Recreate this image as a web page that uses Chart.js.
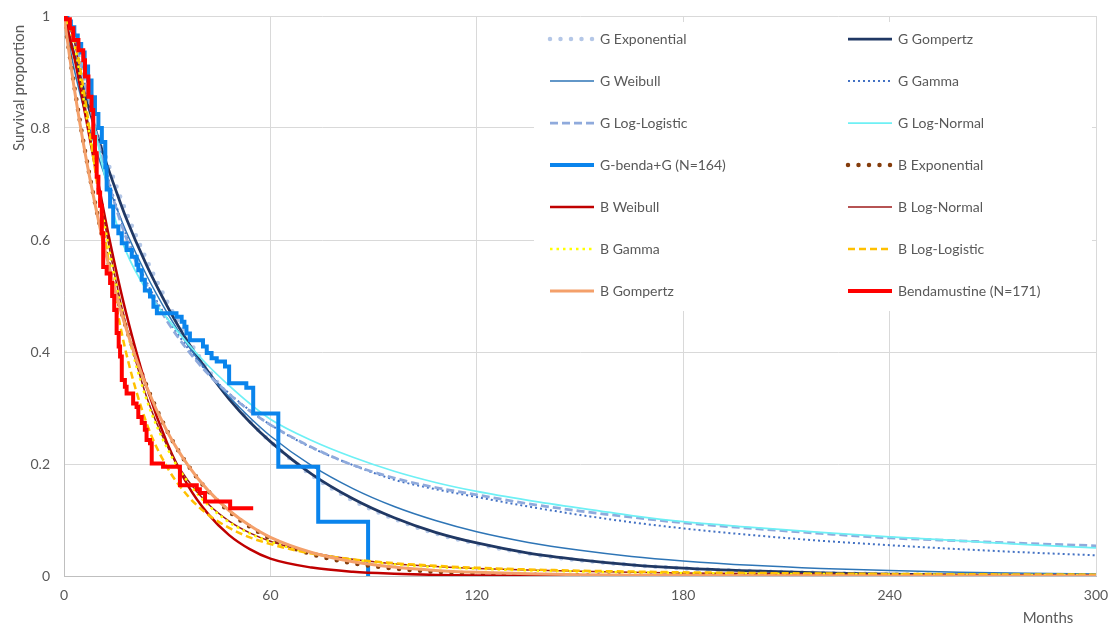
<!DOCTYPE html>
<html lang="en">
<head>
    <meta charset="UTF-8">
    <title>Survival curves</title>
    <script src="https://cdn.jsdelivr.net/npm/chart.js"></script>
    <style>
        html, body { margin: 0; padding: 0; background: #fff; }
        #survCanvas { display: block; }
    </style>
</head>
<body>
<canvas id="survCanvas" width="1109" height="625"></canvas>

<script>
    const fitMonths = [0, 3, 6, 9, 12, 15, 18, 24, 30, 36, 42, 48, 54, 60, 72, 84, 96, 108, 120, 135, 150, 165, 180, 200, 220, 240, 260, 280, 300];

    // G-benda+G fitted curves
    const gExponential = [1, 0.931, 0.867, 0.807, 0.751, 0.70, 0.651, 0.565, 0.49, 0.424, 0.368, 0.319, 0.277, 0.24, 0.18, 0.135, 0.102, 0.076, 0.0575, 0.04, 0.028, 0.0197, 0.0138, 0.0086, 0.0053, 0.0033, 0.002, 0.0013, 0.0008];
    const gGompertz = [1, 0.93, 0.862, 0.80, 0.743, 0.69, 0.64, 0.555, 0.482, 0.418, 0.364, 0.316, 0.275, 0.24, 0.182, 0.138, 0.104, 0.078, 0.059, 0.041, 0.029, 0.02, 0.014, 0.009, 0.0055, 0.0035, 0.0022, 0.0014, 0.0009];
    const gWeibull = [1, 0.904, 0.83, 0.768, 0.712, 0.662, 0.616, 0.537, 0.47, 0.412, 0.362, 0.32, 0.283, 0.25, 0.197, 0.156, 0.124, 0.099, 0.079, 0.06, 0.046, 0.035, 0.027, 0.019, 0.0134, 0.0096, 0.0069, 0.0049, 0.0035];
    const gGamma = [1, 0.955, 0.88, 0.80, 0.73, 0.665, 0.61, 0.525, 0.46, 0.407, 0.362, 0.326, 0.296, 0.27, 0.229, 0.198, 0.172, 0.155, 0.141, 0.124, 0.109, 0.096, 0.085, 0.073, 0.063, 0.055, 0.048, 0.042, 0.037];
    const gLogLogistic = [1, 0.96, 0.885, 0.80, 0.725, 0.66, 0.605, 0.52, 0.455, 0.403, 0.36, 0.325, 0.295, 0.27, 0.23, 0.198, 0.175, 0.158, 0.145, 0.129, 0.116, 0.105, 0.095, 0.085, 0.076, 0.068, 0.063, 0.058, 0.054];
    const gLogNormal = [1, 0.975, 0.905, 0.80, 0.71, 0.635, 0.58, 0.51, 0.46, 0.415, 0.375, 0.34, 0.308, 0.28, 0.242, 0.212, 0.187, 0.167, 0.151, 0.135, 0.121, 0.108, 0.097, 0.087, 0.078, 0.07, 0.063, 0.056, 0.05];

    // Bendamustine fitted curves
    const bExponential = [1, 0.874, 0.763, 0.667, 0.583, 0.509, 0.445, 0.34, 0.259, 0.198, 0.151, 0.115, 0.088, 0.067, 0.039, 0.0228, 0.0133, 0.0077, 0.0045, 0.0023, 0.0012, 0.0006, 0.0003, 0.0001, 0.0001, 0, 0, 0, 0];
    const bWeibull = [1, 0.926, 0.83, 0.732, 0.638, 0.55, 0.471, 0.338, 0.237, 0.162, 0.11, 0.073, 0.048, 0.031, 0.015, 0.0075, 0.004, 0.002, 0.001, 0.0005, 0.0002, 0.0001, 0, 0, 0, 0, 0, 0, 0];
    const bLogNormal = [1, 0.955, 0.845, 0.735, 0.625, 0.53, 0.45, 0.32, 0.232, 0.171, 0.128, 0.098, 0.077, 0.062, 0.042, 0.03, 0.022, 0.017, 0.0135, 0.0105, 0.0083, 0.0067, 0.0055, 0.0043, 0.0035, 0.0029, 0.0024, 0.002, 0.0017];
    const bGamma = [1, 0.95, 0.84, 0.73, 0.62, 0.525, 0.445, 0.315, 0.228, 0.168, 0.126, 0.096, 0.076, 0.061, 0.041, 0.029, 0.021, 0.016, 0.013, 0.01, 0.008, 0.0065, 0.0053, 0.0042, 0.0034, 0.0028, 0.0023, 0.0019, 0.0016];
    const bLogLogistic = [1, 0.96, 0.857, 0.727, 0.6, 0.49, 0.4, 0.273, 0.194, 0.143, 0.109, 0.086, 0.069, 0.057, 0.04, 0.0297, 0.0229, 0.0182, 0.0148, 0.0117, 0.0095, 0.0079, 0.0066, 0.0054, 0.0044, 0.0037, 0.0032, 0.0027, 0.0024];
    const bGompertz = [1, 0.87, 0.76, 0.665, 0.58, 0.507, 0.443, 0.338, 0.258, 0.198, 0.152, 0.117, 0.09, 0.069, 0.042, 0.0255, 0.016, 0.01, 0.0065, 0.0038, 0.0023, 0.0014, 0.0009, 0.0005, 0.0003, 0.0002, 0.0001, 0.0001, 0];

    // Kaplan-Meier steps: time of each drop and survival after it
    const gKmMonths = [0, 1, 2, 3, 4, 5, 6, 7, 8, 9, 10, 11, 12, 12.4, 13.4, 14.3, 15.8, 16.8, 18.2, 19.7, 21.1, 21.6, 22.6, 23.5, 25, 26, 27, 32.7, 34.2, 35, 35.6, 36.6, 40.4, 41.5, 42.9, 44.4, 46.8, 48, 53, 55, 62.3, 73.9, 88.4];
    const gKmSurv = [1, 0.99, 0.98, 0.965, 0.95, 0.935, 0.91, 0.885, 0.855, 0.825, 0.8, 0.775, 0.73, 0.69, 0.66, 0.624, 0.612, 0.594, 0.582, 0.57, 0.556, 0.546, 0.529, 0.51, 0.499, 0.481, 0.469, 0.463, 0.454, 0.445, 0.433, 0.421, 0.41, 0.398, 0.389, 0.383, 0.374, 0.344, 0.336, 0.29, 0.195, 0.097, 0];
    const bKmMonths = [0, 0.5, 1.7, 2.7, 4.2, 5.6, 6.1, 7.1, 8, 8.5, 9, 9.5, 10, 10.5, 11, 11.4, 12.4, 13.4, 14, 14.6, 15.3, 15.9, 16.3, 16.8, 17.7, 18.2, 20.1, 21.1, 21.6, 22.6, 23.5, 24, 25, 25.5, 28.8, 33.7, 38.6, 39.5, 41, 48.3, 55];
    const bKmSurv = [1, 0.994, 0.978, 0.957, 0.939, 0.921, 0.892, 0.856, 0.832, 0.784, 0.755, 0.713, 0.685, 0.661, 0.612, 0.552, 0.54, 0.523, 0.5, 0.475, 0.434, 0.41, 0.392, 0.35, 0.338, 0.326, 0.308, 0.302, 0.284, 0.273, 0.261, 0.243, 0.237, 0.201, 0.195, 0.162, 0.155, 0.148, 0.133, 0.121, 0.121];

    const xTicks = [0, 60, 120, 180, 240, 300];
    const yTicks = [0, 0.2, 0.4, 0.6, 0.8, 1];

    const textColor = '#595959';
    const fontFamily = 'Lato, "Open Sans", sans-serif';

    function pairs(xs, ys) {
        return xs.map((x, i) => ({ x: x, y: ys[i] }));
    }

    function fitLine(label, values, color, width, dash, cap) {
        return {
            label: label,
            data: pairs(fitMonths, values),
            borderColor: color,
            backgroundColor: color,
            borderWidth: width,
            borderDash: dash || [],
            borderCapStyle: cap || 'butt',
            cubicInterpolationMode: 'monotone',
            pointRadius: 0,
            fill: false
        };
    }

    function kmLine(label, months, surv, color) {
        return {
            label: label,
            data: pairs(months, surv),
            borderColor: color,
            backgroundColor: color,
            borderWidth: 4,
            borderDash: [],
            borderCapStyle: 'butt',
            borderJoinStyle: 'miter',
            stepped: 'before',
            pointRadius: 0,
            fill: false
        };
    }

    const datasets = [
        fitLine('G Exponential', gExponential, '#B4C7E7', 4.5, [0, 10.5], 'round'),
        fitLine('G Gompertz', gGompertz, '#203864', 2.75),
        fitLine('G Weibull', gWeibull, '#2E75B6', 1.5),
        fitLine('G Gamma', gGamma, '#4472C4', 2, [2, 3]),
        fitLine('G Log-Logistic', gLogLogistic, '#8FAADC', 2.75, [8, 4]),
        fitLine('G Log-Normal', gLogNormal, '#6EF0F5', 1.75),
        kmLine('G-benda+G (N=164)', gKmMonths, gKmSurv, '#0A84EC'),
        fitLine('B Exponential', bExponential, '#843C0C', 4.5, [0, 10.5], 'round'),
        fitLine('B Weibull', bWeibull, '#C00000', 2.5),
        fitLine('B Log-Normal', bLogNormal, '#9E1A1A', 1.5),
        fitLine('B Gamma', bGamma, '#FFFF00', 2.5, [2.5, 4]),
        fitLine('B Log-Logistic', bLogLogistic, '#FFC000', 2.5, [7, 4]),
        fitLine('B Gompertz', bGompertz, '#F4A06A', 3),
        kmLine('Bendamustine (N=171)', bKmMonths, bKmSurv, '#FF0000')
    ];
    // later series sit on top, like the spreadsheet
    datasets.forEach((ds, i) => { ds.order = datasets.length - i; });

    // legend box, axis titles
    const overlayPlugin = {
        id: 'overlay',
        afterDraw(chart) {
            const ctx = chart.ctx;
            ctx.save();

            ctx.fillStyle = '#ffffff';
            ctx.fillRect(534, 22, 558, 289);

            ctx.font = '14px ' + fontFamily;
            ctx.textBaseline = 'middle';
            ctx.textAlign = 'left';
            const colX = [550, 848];
            const rowY0 = 39, rowGap = 42;
            chart.data.datasets.forEach((ds, i) => {
                const col = i % 2;
                const row = Math.floor(i / 2);
                const x = colX[col];
                const y = rowY0 + row * rowGap;
                ctx.beginPath();
                ctx.setLineDash(ds.borderDash || []);
                ctx.lineCap = ds.borderCapStyle || 'butt';
                ctx.lineWidth = ds.borderWidth;
                ctx.strokeStyle = ds.borderColor;
                ctx.moveTo(x, y);
                ctx.lineTo(x + 44, y);
                ctx.stroke();
                ctx.setLineDash([]);
                ctx.fillStyle = textColor;
                ctx.fillText(ds.label, x + 50, y);
            });

            // axis titles
            ctx.fillStyle = textColor;
            ctx.font = '15px ' + fontFamily;
            ctx.textAlign = 'center';
            ctx.fillText('Months', 1048, 618);
            ctx.translate(19, 88);
            ctx.rotate(-Math.PI / 2);
            ctx.fillText('Survival proportion', 0, 0);
            ctx.restore();
        }
    };

    const ctxSurv = document.getElementById('survCanvas').getContext('2d');
    const survChart = new Chart(ctxSurv, {
        type: 'line',
        data: { datasets: datasets },
        options: {
            responsive: false,
            animation: false,
            devicePixelRatio: 1,
            layout: { padding: { top: 16, right: 13, left: 0, bottom: 0 } },
            plugins: {
                legend: { display: false },
                tooltip: { enabled: false }
            },
            scales: {
                x: {
                    type: 'linear',
                    min: 0,
                    max: 300,
                    afterBuildTicks: s => { s.ticks = xTicks.map(v => ({ value: v })); },
                    afterFit: s => {
                        s.height = 49;
                        s.paddingLeft = 0;
                        s.paddingRight = 0;
                    },
                    grid: { color: '#D9D9D9', lineWidth: 1, drawTicks: false },
                    border: { color: '#BFBFBF', width: 1 },
                    ticks: {
                        padding: 11,
                        color: textColor,
                        font: { family: fontFamily, size: 14 },
                        maxRotation: 0,
                        callback: v => String(v)
                    }
                },
                y: {
                    min: 0,
                    max: 1,
                    afterBuildTicks: s => { s.ticks = yTicks.map(v => ({ value: v })); },
                    afterFit: s => {
                        s.width = 64;
                        s.paddingTop = 0;
                        s.paddingBottom = 0;
                    },
                    grid: { color: '#D9D9D9', lineWidth: 1, drawTicks: false },
                    border: { color: '#BFBFBF', width: 1 },
                    ticks: {
                        padding: 14,
                        color: textColor,
                        font: { family: fontFamily, size: 14 },
                        callback: v => String(v)
                    }
                }
            }
        },
        plugins: [overlayPlugin]
    });
</script>
</body>
</html>
